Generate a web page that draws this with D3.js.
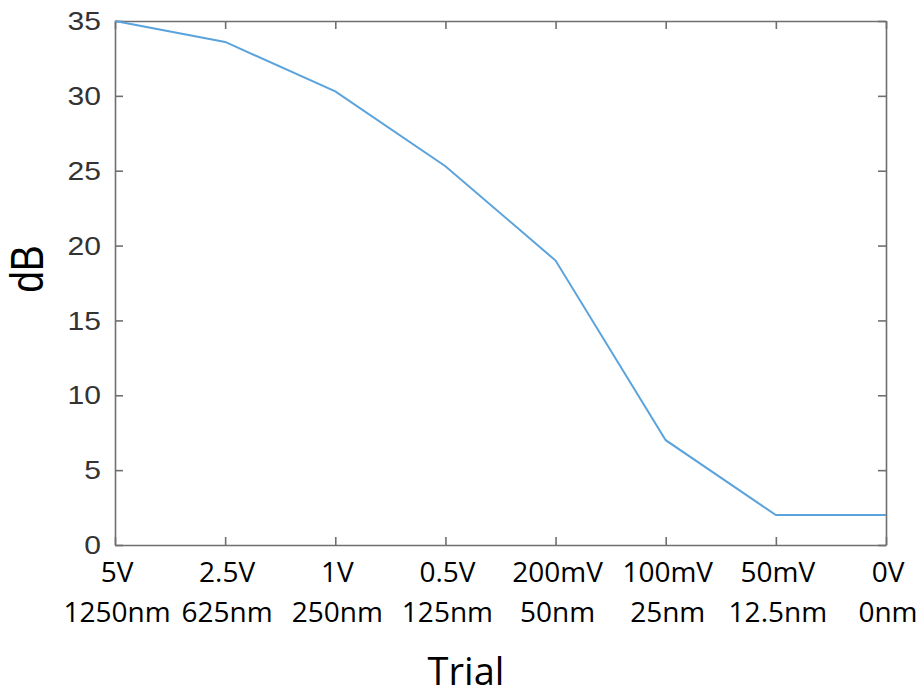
<!DOCTYPE html>
<html>
<head>
<meta charset="utf-8">
<script src="https://cdn.jsdelivr.net/npm/d3@7"></script>
<style>
  body { margin: 0; background: #fff; }
</style>
</head>
<body>
<div id="chart"></div>
<script>
// data
const voltages = ["5V", "2.5V", "1V", "0.5V", "200mV", "100mV", "50mV", "0V"];
const distances = ["1250nm", "625nm", "250nm", "125nm", "50nm", "25nm", "12.5nm", "0nm"];
const dbValues = [35, 33.6, 30.3, 25.3, 19, 7, 2, 2];
const yTicks = [0, 5, 10, 15, 20, 25, 30, 35];

const width = 921
const height = 696
const margin = {top: 21, right: 35, bottom: 151, left: 115}

const svg = d3.select("#chart")
  .append("svg")
  .attr("width", width)
  .attr("height", height)

svg.append("rect")
  .attr("width", width)
  .attr("height", height)
  .attr("fill", "white")

const x = d3.scalePoint()
  .domain(voltages)
  .range([margin.left, width - margin.right])

const y = d3.scaleLinear()
  .domain([0, 35])
  .range([height - margin.bottom, margin.top])

const axisColor = "#6f6f6f"
const tickLen = 8

// axes, ticks pointing inward (box on all four sides)
const gBottom = svg.append("g")
  .attr("transform", `translate(0,${y(0)})`)
  .call(d3.axisBottom(x).tickSizeInner(-tickLen).tickSizeOuter(0).tickFormat(""))
const gTop = svg.append("g")
  .attr("transform", `translate(0,${y(35)})`)
  .call(d3.axisTop(x).tickSizeInner(-tickLen).tickSizeOuter(0).tickFormat(""))
const gLeft = svg.append("g")
  .attr("transform", `translate(${x(voltages[0])},0)`)
  .call(d3.axisLeft(y).tickValues(yTicks).tickSizeInner(-tickLen).tickSizeOuter(0).tickFormat(""))
const gRight = svg.append("g")
  .attr("transform", `translate(${x(voltages[voltages.length - 1])},0)`)
  .call(d3.axisRight(y).tickValues(yTicks).tickSizeInner(-tickLen).tickSizeOuter(0).tickFormat(""))

for (const g of [gBottom, gTop, gLeft, gRight]) {
  g.selectAll("path, line")
    .attr("stroke", axisColor)
    .attr("stroke-width", 1.6)
}

// y tick labels (picture is a bit stretched horizontally)
svg.selectAll("ytext")
  .data(yTicks)
  .join("text")
  .attr("transform", d => `translate(101,${y(d)}) scale(1.18,1)`)
  .attr("dy", "0.36em")
  .attr("text-anchor", "end")
  .attr("font-family", "Liberation Sans, Arial, sans-serif")
  .attr("font-size", 25.5)
  .attr("fill", "#333")
  .text(d => d)

// two-line x labels
svg.selectAll("xtext1")
  .data(voltages)
  .join("text")
  .attr("x", d => x(d) + 2)
  .attr("y", 582)
  .attr("text-anchor", "middle")
  .attr("font-family", "Open Sans, Noto Sans, sans-serif")
  .attr("font-size", 28)
  .attr("fill", "#000")
  .text(d => d)

svg.selectAll("xtext2")
  .data(distances)
  .join("text")
  .attr("x", (d, i) => x(voltages[i]) + 2)
  .attr("y", 622)
  .attr("text-anchor", "middle")
  .attr("font-family", "Open Sans, Noto Sans, sans-serif")
  .attr("font-size", 28)
  .attr("fill", "#000")
  .text(d => d)

// axis titles
svg.append("text")
  .attr("x", 466)
  .attr("y", 685)
  .attr("text-anchor", "middle")
  .attr("font-family", "Open Sans, Noto Sans, sans-serif")
  .attr("font-size", 38)
  .attr("fill", "#000")
  .text("Trial")

svg.append("text")
  .attr("transform", "translate(43,269) scale(1.18,1) rotate(-90)")
  .attr("text-anchor", "middle")
  .attr("font-family", "Liberation Sans, Arial, sans-serif")
  .attr("font-size", 39)
  .attr("fill", "#000")
  .text("dB")

// the line
const line = d3.line()
  .x((d, i) => x(voltages[i]))
  .y(d => y(d))

svg.append("path")
  .datum(dbValues)
  .attr("d", line)
  .attr("fill", "none")
  .attr("stroke", "#5ba3dc")
  .attr("stroke-width", 2)
</script>
</body>
</html>
